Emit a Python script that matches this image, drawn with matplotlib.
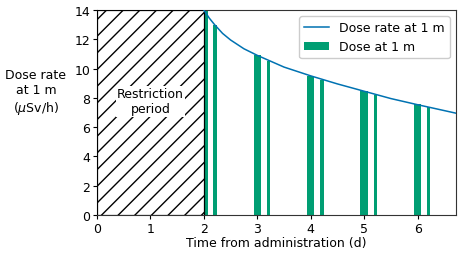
import numpy as np
import matplotlib
matplotlib.use("Agg")
import matplotlib.pyplot as plt

# dose rate curve (days, uSv/h)
rate_t = [2.0, 2.1, 2.2, 2.35, 2.5, 2.75, 3.0, 3.25, 3.5, 4.0, 4.5, 5.0, 5.25, 5.5, 6.0, 6.25, 6.72]
rate_v = [14.0, 13.45, 13.0, 12.4, 11.95, 11.35, 10.9, 10.5, 10.1, 9.5, 8.95, 8.45, 8.2, 7.95, 7.53, 7.33, 6.95]

# dose bars: longer contact around each day, a short one a little later
wide_t = [2.0, 3.0, 4.0, 5.0, 6.0]
wide_v = [14.0, 10.95, 9.52, 8.47, 7.55]
narrow_t = [2.21, 3.21, 4.21, 5.21, 6.21]
narrow_v = [12.95, 10.5, 9.25, 8.22, 7.35]

restriction_end = 2.0

fs = 9
plt.rcParams["hatch.linewidth"] = 1.0

fig, ax = plt.subplots(figsize=(4.63, 2.55), dpi=100)
fig.subplots_adjust(left=0.2095, right=0.985, top=0.957, bottom=0.153)

green = "#009E73"
ax.bar(wide_t, wide_v, width=0.14, color=green, label="Dose at 1 m", zorder=2)
ax.bar(narrow_t, narrow_v, width=0.06, color=green, zorder=2)
ax.plot(rate_t, rate_v, color="#0072B2", lw=1.1, label="Dose rate at 1 m", zorder=4)

ax.axvspan(0, restriction_end, facecolor="white", edgecolor="black",
           hatch="//", lw=0.9, zorder=3)
ax.text(1.0, 7.75, "Restriction\nperiod", ha="center", va="center", fontsize=fs,
        bbox=dict(facecolor="white", edgecolor="none", pad=1), zorder=5)

ax.set_xlim(0, 6.72)
ax.set_ylim(0, 14)
ax.set_xticks(range(0, 7))
ax.set_yticks(range(0, 15, 2))
ax.tick_params(labelsize=fs, length=3, pad=2)
for s in ax.spines.values():
    s.set_linewidth(0.8)
    s.set_color("#333333")
ax.set_xlabel("Time from administration (d)", fontsize=fs, labelpad=1)
ax.set_ylabel("Dose rate\nat 1 m\n($\\mu$Sv/h)", fontsize=fs, rotation=0,
              ha="center", va="center")
ax.yaxis.set_label_coords(-0.17, 0.6)

ax.legend(loc="upper right", fontsize=fs, framealpha=1)

fig.savefig("out.png", dpi=100)
